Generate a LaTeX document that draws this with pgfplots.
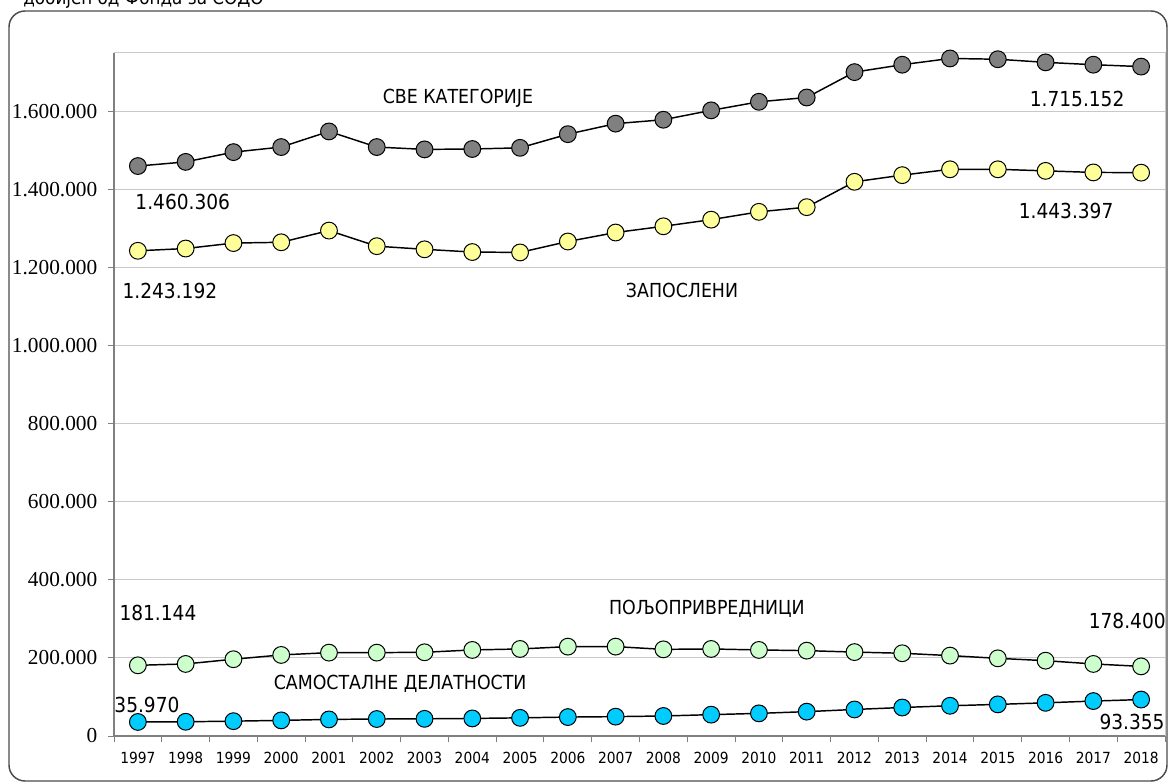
\documentclass[border=0pt]{standalone}
\usepackage{fontspec}
\setmainfont{Liberation Serif}
\newfontfamily\tah{DejaVu Sans Condensed}
\usepackage{pgfplots}
\pgfplotsset{compat=1.18}
\definecolor{cgray}{HTML}{808080}
\definecolor{cgrid}{HTML}{C8C8C8}
\definecolor{cyel}{HTML}{FFFF99}
\definecolor{cgreen}{HTML}{CCFFCC}
\definecolor{cblue}{HTML}{00CCFF}
\begin{document}
\begin{tikzpicture}
\useasboundingbox (0,0) rectangle (876pt,587.25pt);
\draw[line width=1.1pt, draw=black!70, rounded corners=12pt] (6.75pt,1.5pt) rectangle (875.25pt,579pt);
\node[anchor=base west, font=\tah\fontsize{14}{16}\selectfont, inner sep=0pt] at (17.25pt,583.5pt) {добијен од Фонда за СОДО};
\begin{axis}[
  scale only axis, width=788.25pt, height=512.25pt,
  at={(85.5pt,35.25pt)}, anchor=south west,
  xmin=-0.5, xmax=21.5, ymin=0, ymax=1750000,
  clip=false,
  axis x line*=bottom, axis y line*=left,
  axis line style={-, draw=cgray, line width=0.9pt},
  xtick={0,...,21},
  xticklabels={1997,1998,1999,2000,2001,2002,2003,2004,2005,2006,2007,2008,2009,2010,2011,2012,2013,2014,2015,2016,2017,2018},
  major x tick style={draw=none},
  minor xtick={-0.5,0.5,1.5,2.5,3.5,4.5,5.5,6.5,7.5,8.5,9.5,10.5,11.5,12.5,13.5,14.5,15.5,16.5,17.5,18.5,19.5,20.5,21.5},
  ytick={0,200000,400000,600000,800000,1000000,1200000,1400000,1600000},
  tick align=outside,
  major tick length=4.5pt, minor tick length=4.5pt,
  tick style={draw=cgray, line width=0.75pt},
  ymajorgrids, major grid style={draw=cgrid, line width=0.75pt},
  scaled y ticks=false,
  /pgf/number format/fixed,
  /pgf/number format/precision=0,
  /pgf/number format/1000 sep={.},
  /pgf/number format/assume math mode=true,
  yticklabel style={font=\fontsize{16}{18}\selectfont, xshift=-4.5pt},
  xticklabel style={font=\tah\fontsize{11.5}{13}\selectfont, yshift=-4pt},
  every axis plot/.append style={black, line width=1.1pt, mark=*, mark size=6.3pt},
]
\addplot[mark options={fill=cgray, draw=black, line width=0.75pt}] coordinates {
(0,1460306) (1,1471000) (2,1496000) (3,1509000) (4,1549000) (5,1509000) (6,1503000) (7,1504000) (8,1507000) (9,1542000) (10,1569000) (11,1579000) (12,1603000) (13,1625000) (14,1636000) (15,1701000) (16,1720000) (17,1736000) (18,1734000) (19,1726000) (20,1720000) (21,1715152)};
\addplot[mark options={fill=cyel, draw=black, line width=0.75pt}] coordinates {
(0,1243192) (1,1249000) (2,1263000) (3,1265000) (4,1295000) (5,1255000) (6,1247000) (7,1240000) (8,1239000) (9,1267000) (10,1290000) (11,1306000) (12,1323000) (13,1343000) (14,1355000) (15,1420000) (16,1437000) (17,1452000) (18,1452000) (19,1448000) (20,1444000) (21,1443397)};
\addplot[mark options={fill=cgreen, draw=black, line width=0.75pt}] coordinates {
(0,181144) (1,184600) (2,196700) (3,207700) (4,213600) (5,213600) (6,214500) (7,220500) (8,223000) (9,229000) (10,229000) (11,222000) (12,223000) (13,220500) (14,218700) (15,215000) (16,212000) (17,206000) (18,199000) (19,193000) (20,184600) (21,178400)};
\addplot[mark options={fill=cblue, draw=black, line width=0.75pt}] coordinates {
(0,35970) (1,36500) (2,38000) (3,40000) (4,42500) (5,43500) (6,44000) (7,45000) (8,46500) (9,48500) (10,49600) (11,51300) (12,54700) (13,58000) (14,62400) (15,68000) (16,73000) (17,77500) (18,81000) (19,85000) (20,89500) (21,93355)};
\draw[draw=cgrid, line width=0.75pt] (rel axis cs:0,1) -- (rel axis cs:1,1) -- (rel axis cs:1,0);
\begin{scope}[every node/.style={font=\tah\fontsize{14.5}{16}\selectfont, inner sep=0pt}]
\node at (axis cs:6.70,1633000) {СВЕ КАТЕГОРИЈЕ};
\node at (axis cs:11.39,1141000) {ЗАПОСЛЕНИ};
\node at (axis cs:11.91,325600) {ПОЉОПРИВРЕДНИЦИ};
\node at (axis cs:5.49,133300) {САМОСТАЛНЕ ДЕЛАТНОСТИ};
\end{scope}
\begin{scope}[every node/.style={font=\tah\fontsize{15.5}{17}\selectfont, inner sep=0pt}]
\node at (axis cs:0.94,1367000) {1.460.306};
\node at (axis cs:19.66,1633000) {1.715.152};
\node at (axis cs:19.43,1346000) {1.443.397};
\node at (axis cs:0.67,1141000) {1.243.192};
\node at (axis cs:0.42,315400) {181.144};
\node at (axis cs:20.71,294900) {178.400};
\node at (axis cs:0.19,79500) {35.970};
\node at (axis cs:20.81,35900) {93.355};
\end{scope}
\end{axis}
\end{tikzpicture}
\end{document}
